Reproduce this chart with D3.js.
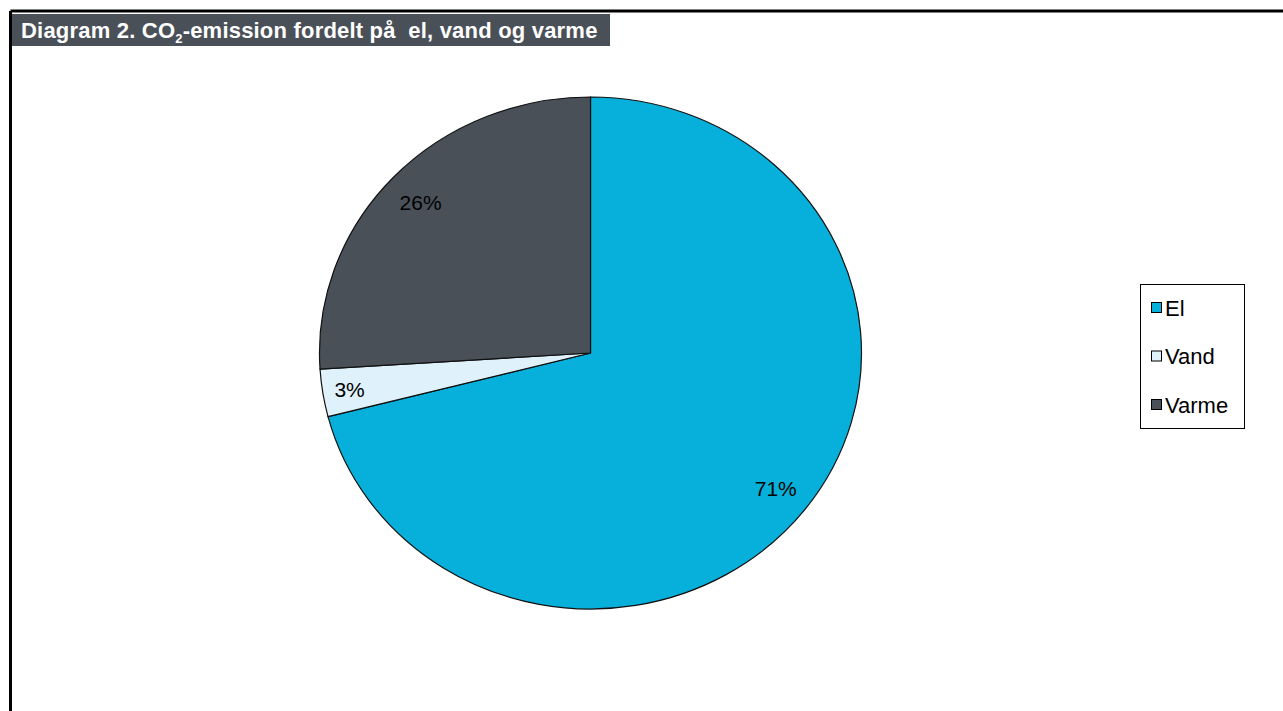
<!DOCTYPE html>
<html>
<head>
<meta charset="utf-8">
<script src="https://cdn.jsdelivr.net/npm/d3@7"></script>
<style>
  html, body { margin: 0; padding: 0; background: #fff; }
  svg { display: block; }
  text { font-family: "Liberation Sans", Arial, sans-serif; }
</style>
</head>
<body>
<svg id="chart" width="1283" height="711"></svg>
<script>
// CO2 emission share by source (percent)
const categories = ["El", "Vand", "Varme"];
const shares = [71, 3, 26];
const colors = ["#07B0DA", "#DFF1FB", "#4A5058"];

const svg = d3.select("#chart");
const W = 1283, H = 711;

// outer frame (top and left rules)
svg.append("line").attr("x1", 10.5).attr("y1", 11).attr("x2", W).attr("y2", 11)
  .attr("stroke", "#000").attr("stroke-width", 3);
svg.append("line").attr("x1", 10.5).attr("y1", 11).attr("x2", 10.5).attr("y2", H)
  .attr("stroke", "#000").attr("stroke-width", 3);

// title bar
svg.append("rect").attr("x", 12).attr("y", 14).attr("width", 598).attr("height", 32)
  .attr("fill", "#4A5058");
const title = svg.append("text").attr("x", 21).attr("y", 38)
  .attr("fill", "#fff").attr("font-size", 22).attr("font-weight", "bold")
  .attr("letter-spacing", 0.2).attr("xml:space", "preserve");
title.append("tspan").text("Diagram 2. CO");
title.append("tspan").attr("font-size", 13).attr("dy", 5).text("2");
title.append("tspan").attr("dy", -5).text("-emission fordelt på  el, vand og varme");

// pie (slightly elliptical)
const cx = 590.5, cy = 353, rx = 271, ry = 256;
const pie = d3.pie().sort(null).value(d => d)(shares);
const arc = d3.arc().innerRadius(0).outerRadius(ry);

const g = svg.append("g")
  .attr("transform", `translate(${cx},${cy}) scale(${rx / ry},1)`);
g.selectAll("path").data(pie).join("path")
  .attr("d", arc)
  .attr("fill", (d, i) => colors[i])
  .attr("stroke", "#111")
  .attr("stroke-width", 1.2)
  .attr("vector-effect", "non-scaling-stroke");

// percentage labels
const labelR = [0.865, 0.9, 0.86];
const labels = svg.append("g");
pie.forEach((d, i) => {
  const a = (d.startAngle + d.endAngle) / 2;
  const r = ry * labelR[i];
  const x = cx + Math.sin(a) * r * (rx / ry);
  const y = cy - Math.cos(a) * r;
  labels.append("text")
    .attr("x", x).attr("y", y)
    .attr("text-anchor", "middle").attr("dominant-baseline", "central")
    .attr("font-size", 21).attr("fill", "#000")
    .text(shares[i] + "%");
});

// legend
const lg = svg.append("g");
lg.append("rect").attr("x", 1140.5).attr("y", 284.5).attr("width", 104).attr("height", 144)
  .attr("fill", "#fff").attr("stroke", "#000").attr("stroke-width", 1);
categories.forEach((c, i) => {
  const y = 308 + i * 48.5;
  lg.append("rect").attr("x", 1151.5).attr("y", y - 5.5).attr("width", 10).attr("height", 10)
    .attr("fill", colors[i]).attr("stroke", "#000").attr("stroke-width", 1);
  lg.append("text").attr("x", 1165).attr("y", y).attr("dominant-baseline", "central")
    .attr("font-size", 22).attr("fill", "#000").text(c);
});
</script>
</body>
</html>
